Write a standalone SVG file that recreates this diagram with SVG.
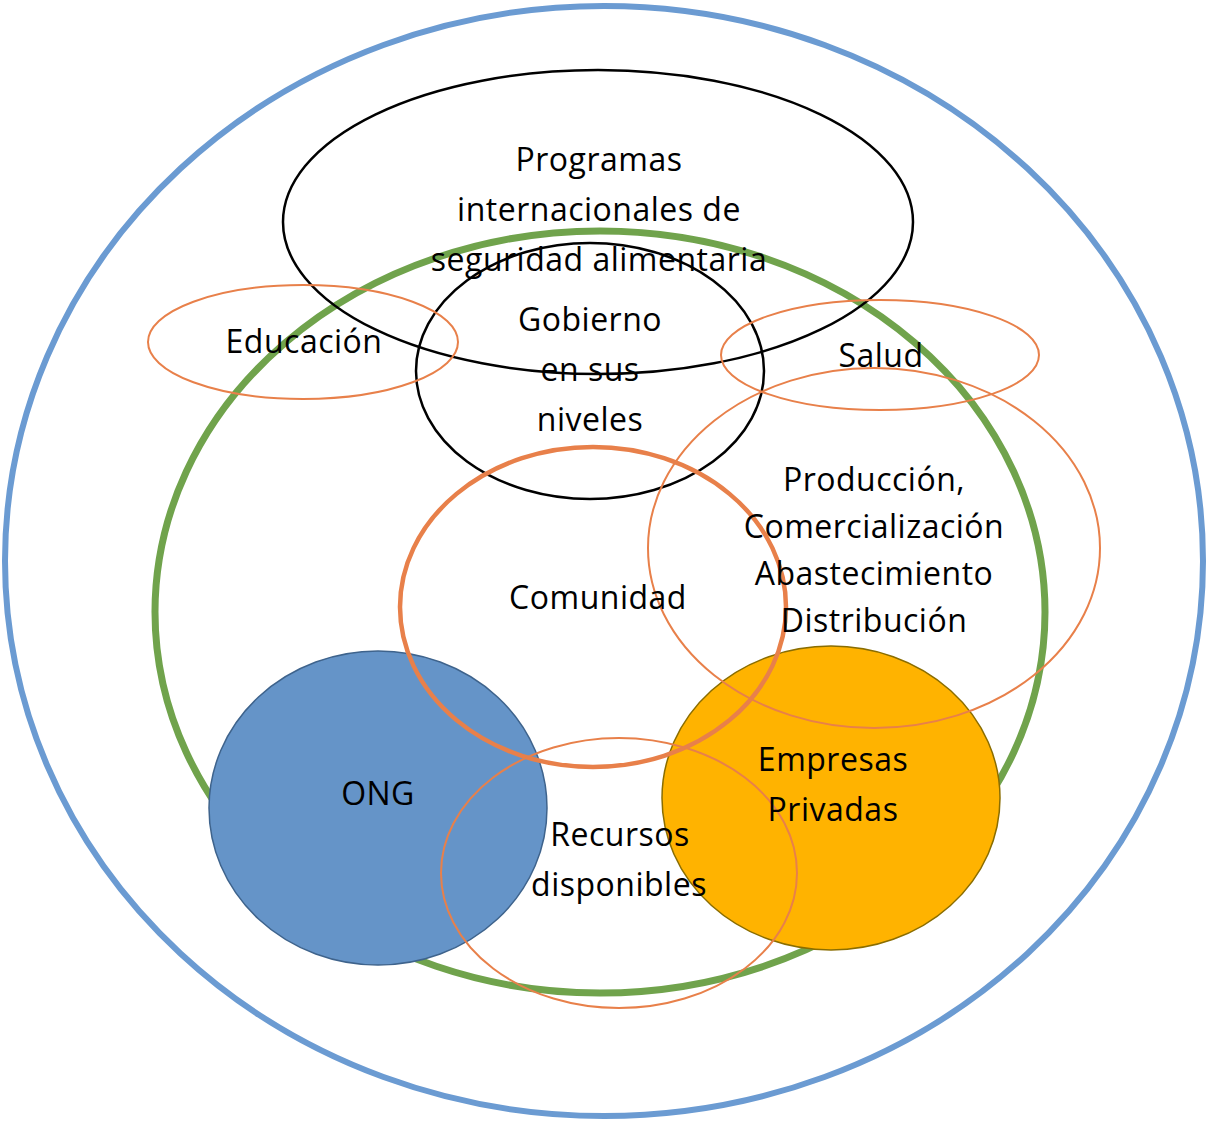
<svg xmlns="http://www.w3.org/2000/svg" width="1209" height="1122" viewBox="0 0 1209 1122">
<style>
.t{font-family:"Open Sans",Lato,"Liberation Sans",sans-serif;font-size:32px;letter-spacing:0.5px;fill:#000;text-anchor:middle}
.or{fill:none;stroke:#e8804a;stroke-width:2}
.bk{fill:none;stroke:#000;stroke-width:2.5}
</style>
<rect width="1209" height="1122" fill="#fff"/>
<g id="entorno"><ellipse cx="604" cy="561" rx="599" ry="555" fill="none" stroke="#6b9bd2" stroke-width="6"/></g>
<g id="ambito"><ellipse cx="600" cy="612" rx="445" ry="381" fill="none" stroke="#70a34c" stroke-width="7"/></g>
<g id="ong"><ellipse cx="378" cy="808" rx="169" ry="157" fill="#6594c8" stroke="#3e638c" stroke-width="1.5"/></g>
<g id="empresas"><ellipse cx="831" cy="798" rx="169" ry="152" fill="#ffb300" stroke="#8a6d00" stroke-width="1.5"/></g>
<g id="programas"><ellipse cx="598" cy="222" rx="315" ry="152" class="bk"/></g>
<g id="gobierno"><ellipse cx="590" cy="371" rx="174" ry="128" class="bk"/></g>
<g id="educacion"><ellipse cx="303" cy="342" rx="155" ry="57" class="or"/></g>
<g id="salud"><ellipse cx="880" cy="355" rx="159" ry="55" class="or"/></g>
<g id="produccion"><ellipse cx="874" cy="548" rx="226" ry="180" class="or"/></g>
<g id="comunidad"><ellipse cx="593" cy="607" rx="193" ry="160" fill="none" stroke="#e8804a" stroke-width="4.5"/></g>
<g id="recursos"><ellipse cx="619" cy="873" rx="178" ry="135" class="or"/></g>
<g id="connectors"></g>
<g id="labels">
<text class="t" x="599" y="171">Programas</text>
<text class="t" x="599" y="221">internacionales de</text>
<text class="t" x="599" y="271">seguridad alimentaria</text>
<text class="t" x="590" y="331">Gobierno</text>
<text class="t" x="590" y="381">en sus</text>
<text class="t" x="590" y="431">niveles</text>
<text class="t" x="304" y="353">Educación</text>
<text class="t" x="881" y="367">Salud</text>
<text class="t" x="874" y="491">Producción,</text>
<text class="t" x="874" y="538">Comercialización</text>
<text class="t" x="874" y="585">Abastecimiento</text>
<text class="t" x="874" y="632">Distribución</text>
<text class="t" x="598" y="609">Comunidad</text>
<text class="t" x="378" y="805">ONG</text>
<text class="t" x="833" y="771">Empresas</text>
<text class="t" x="833" y="821">Privadas</text>
<text class="t" x="620" y="846">Recursos</text>
<text class="t" x="619" y="896">disponibles</text>
</g>
</svg>
